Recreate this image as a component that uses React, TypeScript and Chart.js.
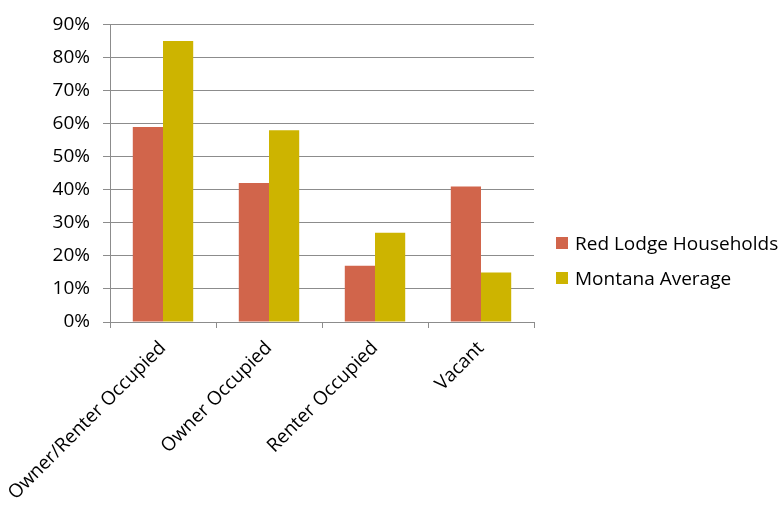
import React, { useEffect, useRef } from "react";
import { Chart, registerables } from "chart.js";

Chart.register(...registerables);

const categories = ["Owner/Renter Occupied", "Owner Occupied", "Renter Occupied", "Vacant"];
const redLodgeHouseholds = [59, 42, 17, 41];
const montanaAverage = [85, 58, 27, 15];
const seriesNames = ["Red Lodge Households", "Montana Average"];
const seriesColors = ["#D1654B", "#CDB400"];
const yTickStep = 10;
const yMax = 90;

const FONT = "'Open Sans', 'Noto Sans', sans-serif";
const FONT_SIZE = 19;

export default function App() {
  const canvasRef = useRef<HTMLCanvasElement | null>(null);

  useEffect(() => {
    if (!canvasRef.current) return;
    const chart = new Chart(canvasRef.current, {
      type: "bar",
      data: {
        labels: categories,
        datasets: [
          { label: seriesNames[0], data: redLodgeHouseholds, backgroundColor: seriesColors[0] },
          { label: seriesNames[1], data: montanaAverage, backgroundColor: seriesColors[1] },
        ],
      },
      options: {
        responsive: false,
        animation: false,
        layout: { padding: { left: 0, right: 246, top: 21, bottom: 0 } },
        datasets: { bar: { categoryPercentage: 0.57, barPercentage: 1.0 } },
        plugins: { legend: { display: false }, tooltip: { enabled: false } },
        scales: {
          x: {
            grid: {
              offset: true,
              drawOnChartArea: false,
              drawTicks: true,
              tickLength: 6,
              color: "#8c8c8c",
            },
            border: { color: "#8c8c8c" },
            ticks: {
              autoSkip: false,
              minRotation: 45,
              maxRotation: 45,
              color: "#000",
              padding: 9,
              font: { family: FONT, size: FONT_SIZE },
            },
            afterFit: (s: any) => {
              s.height = 183;
              // rotated labels may overhang the left edge freely
              s.paddingLeft = 0;
              s.paddingRight = 0;
            },
          },
          y: {
            min: 0,
            max: yMax,
            ticks: {
              stepSize: yTickStep,
              color: "#000",
              padding: 13,
              font: { family: FONT, size: FONT_SIZE },
              callback: (v: any) => `${v}%`,
            },
            grid: { color: "#8c8c8c", tickLength: 7 },
            border: { color: "#8c8c8c" },
            afterFit: (s: any) => {
              s.width = 110;
            },
          },
        },
      },
    });
    return () => chart.destroy();
  }, []);

  return (
    <div style={{ position: "absolute", left: 0, top: 0, width: 780, height: 505, background: "#fff" }}>
      <canvas ref={canvasRef} width={780} height={505} style={{ display: "block" }} />
      {seriesNames.map((name, i) => (
        <div
          key={name}
          style={{
            position: "absolute",
            left: 556,
            top: 231 + i * 34.5,
            height: 24,
            display: "flex",
            alignItems: "center",
            fontFamily: FONT,
            fontSize: FONT_SIZE,
            color: "#000",
            whiteSpace: "nowrap",
          }}
        >
          <span style={{ display: "inline-block", width: 12, height: 12, background: seriesColors[i], marginRight: 7 }} />
          {name}
        </div>
      ))}
    </div>
  );
}
